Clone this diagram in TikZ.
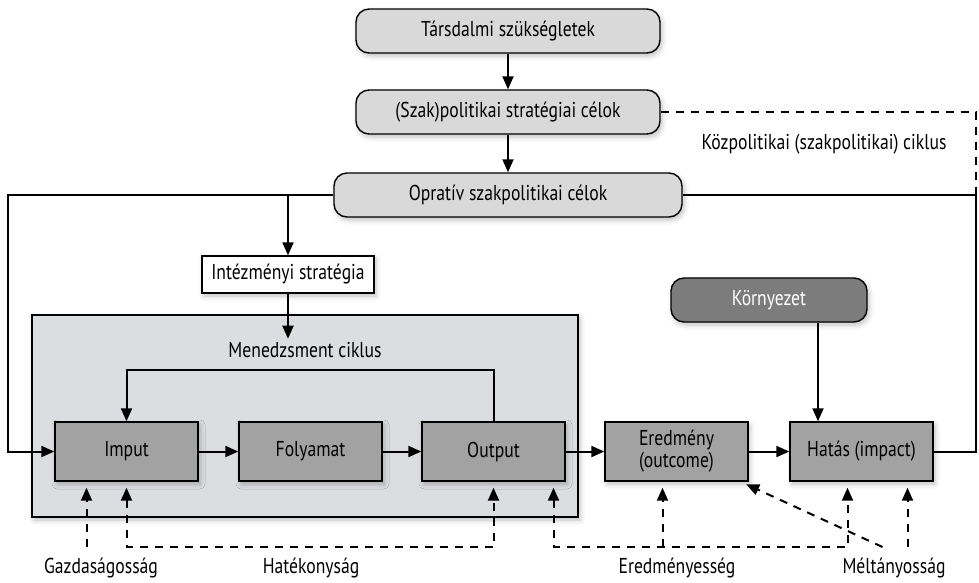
\documentclass[tikz,border=0pt]{standalone}
\usepackage{fontspec}
\setmainfont{PT Sans}[FakeStretch=0.82]
\usetikzlibrary{calc,arrows.meta,shadows.blur}

\definecolor{goalgrey}{HTML}{D9D9D9}
\definecolor{mgmtgrey}{HTML}{DCDDE0}
\definecolor{stepgrey}{HTML}{A2A2A2}
\definecolor{envgrey}{HTML}{7C7C7C}

\tikzset{
  every node/.style={font=\fontsize{21.5}{22}\selectfont},
  softshadow/.style={blur shadow={shadow xshift=2pt, shadow yshift=-3pt, shadow blur radius=5pt, shadow opacity=25}},
  goalbox/.style={draw, line width=1.4pt, rounded corners=13pt, fill=goalgrey, minimum width=304pt, minimum height=44pt, softshadow},
  stratbox/.style={draw, line width=1.4pt, fill=white, minimum width=172pt, minimum height=37pt, softshadow},
  mgmtbox/.style={draw, line width=1.4pt, fill=mgmtgrey, minimum width=546pt, minimum height=202pt, softshadow},
  stepbox/.style={draw, line width=1.4pt, fill=stepgrey, minimum width=143pt, minimum height=59pt, align=center, softshadow},
  envbox/.style={draw, line width=1.4pt, rounded corners=13pt, fill=envgrey, text=white, minimum width=196pt, minimum height=44pt, softshadow},
  flowarrow/.style={line width=2pt, -{Triangle[length=13pt,width=11pt]}},
  railline/.style={line width=2pt},
  evalpath/.style={line width=2pt, dash pattern=on 8pt off 7pt},
  evaltip/.style={{Triangle[length=13pt,width=11pt]}-{Triangle[length=13pt,width=11pt]}, shorten <=6pt, shorten >=6pt},
  evalone/.style={-{Triangle[length=13pt,width=11pt]}, shorten >=6pt}
}

\begin{document}
\begin{tikzpicture}[x=1pt,y=-1pt]
%%%%% START %%%%%
\def\midx{508}
\def\rowy{451.5}
\def\basey{547}
\def\railx{976}
\def\leftx{8}
\useasboundingbox (0,0) rectangle (979,582);

% management frame
\node[mgmtbox] (mgmt) at (305,416) {};
\node (mgmtlabel) at (305,350) {Menedzsment ciklus};

% goals
\node[goalbox] (needs) at (\midx,31) {Társdalmi szükségletek};
\node[goalbox] (strategic) at (\midx,112) {(Szak)politikai stratégiai célok};
\node[goalbox, minimum width=348pt] (operative) at (\midx,195) {Opratív szakpolitikai célok};
\node[stratbox] (inststrat) at (288,274.5) {Intézményi stratégia};

% row
\node[stepbox] (imput) at (126.5,\rowy) {Imput};
\node[stepbox] (folyamat) at (310.5,\rowy) {Folyamat};
\node[stepbox] (output) at (493.5,\rowy) {Output};
\node[stepbox] (eredmeny) at (676.5,\rowy) {Eredmény\\(outcome)};
\node[stepbox] (hatas) at (861.5,\rowy) {Hatás (impact)};
\node[envbox] (env) at (769,300) {Környezet};

\coordinate (rail) at (\railx,0);
\coordinate (left) at (\leftx,0);
\coordinate (base) at (0,\basey);
\coordinate (loop) at (0,370);

\draw[flowarrow] (needs) -- (strategic);
\draw[flowarrow] (strategic) -- (operative);
\draw[flowarrow] (operative.west) -| (left |- imput.west) -- (imput.west);
\draw[flowarrow] (operative.west -| inststrat.north) -- (inststrat.north);
\draw[flowarrow] (inststrat.south) -- (inststrat.south |- mgmtlabel.north);
\draw[railline] (operative.east) -| (rail |- hatas.east) -- (hatas.east);
\draw[evalpath] (strategic.east) -| (rail |- operative.east);
\node (policycycle) at (824,144) {Közpolitikai (szakpolitikai) ciklus};

\draw[flowarrow] (imput) -- (folyamat);
\draw[flowarrow] (folyamat) -- (output);
\draw[flowarrow] (output) -- (eredmeny);
\draw[flowarrow] (eredmeny) -- (hatas);
\draw[flowarrow] (output.north) -- (output.north |- loop) -| (imput.north);
\draw[flowarrow] ([xshift=49pt]env.south) -- ([xshift=49pt]env.south |- hatas.north);

% evaluation
\draw[evalpath, evalone] ([xshift=-40pt]imput.south |- base) -- ([xshift=-40pt]imput.south);
\draw[evalpath, evaltip] (imput.south) |- (base -| output.south) -- (output.south);
\draw[evalpath, evaltip] ([xshift=60pt]output.south) |- ([xshift=-14pt]hatas.south |- base) -- ([xshift=-14pt]hatas.south);
\draw[evalpath, evalone] ([xshift=-14pt]eredmeny.south |- base) -- ([xshift=-14pt]eredmeny.south);
\draw[evalpath, evalone] ([xshift=46pt]hatas.south |- base) -- ([xshift=46pt]hatas.south);
\draw[evalpath, evalone] ([xshift=21pt]hatas.south |- base) -- ([xshift=-8pt]eredmeny.south east);

\node (gazd) at (101,568) {Gazdaságosság};
\node (hatek) at (311,568) {Hatékonyság};
\node (eredm) at (677,568) {Eredményesség};
\node (melt) at (894,568) {Méltányosság};
%%%%% END %%%%%
\end{tikzpicture}
\end{document}
